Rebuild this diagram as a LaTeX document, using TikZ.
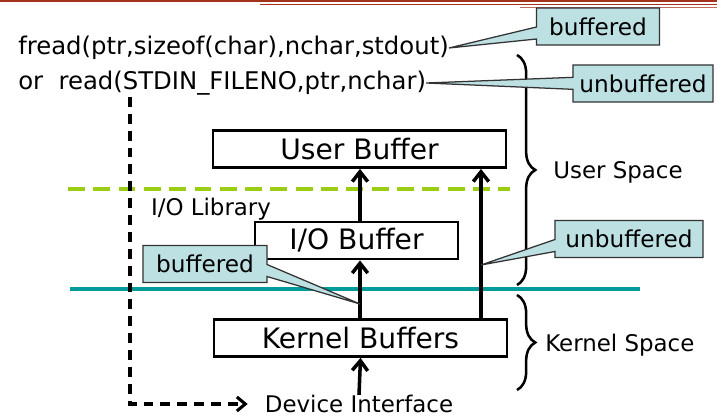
\documentclass[tikz,border=0pt]{standalone}
\usepackage{fontspec}
\setmainfont{DejaVu Sans}
\usetikzlibrary{arrows.meta,shapes.callouts,decorations.pathreplacing}
\definecolor{notefill}{HTML}{BDE0E3}
\definecolor{kernline}{HTML}{009C9C}
\definecolor{libline}{HTML}{9ACD14}
\definecolor{slidered}{HTML}{A3321C}

\begin{document}
\begin{tikzpicture}[x=0.025cm, y=-0.025cm,
  buf/.style={draw, line width=2pt, minimum height=0.925cm, inner sep=0pt,
    font=\fontsize{20}{23}\selectfont},
  code/.style={inner sep=0pt, anchor=west, font=\fontsize{17.3}{20}\selectfont},
  lbl/.style={inner sep=0pt, font=\fontsize{16.3}{19}\selectfont},
  note/.style={rectangle callout, draw=black!80, fill=notefill, line width=0.9pt,
    callout pointer width=0.3cm, minimum height=0.925cm, inner sep=0pt,
    font=\fontsize{16.5}{19}\selectfont},
  flow/.style={-{Straight Barb[length=7pt,width=11pt]}, line width=2.5pt},
  span/.style={decorate, decoration={brace, amplitude=13pt}, line width=1.8pt}]
  \path[use as bounding box] (0,0) rectangle (717,418);

  % Slide rules at the top
  \draw[slidered, line width=1.2pt] (0,1) -- (717,1);
  \draw[slidered, line width=0.9pt] (260,4.5) -- (717,4.5);
  \draw[slidered!70, line width=0.6pt] (520,7.5) -- (717,7.5);

  % Calls
  \node[code] (fread) at (18,48) {fread(ptr,sizeof(char),nchar,stdout)};
  \node[code] (rdcall) at (18,83) {or\ \ read(STDIN\_FILENO,ptr,nchar)};

  % Layer lines
  \draw[libline, line width=2.8pt, dash pattern=on 12pt off 6pt] (68,189) -- (510,189);
  \draw[kernline, line width=3.4pt] (70,289) -- (640,289);

  % Buffers
  \node[buf, minimum width=7.325cm] (userbuf) at (359.5,149) {User Buffer};
  \node[buf, minimum width=5.075cm] (iobuf) at (356.5,240.5) {I/O Buffer};
  \node[buf, minimum width=7.325cm] (kernbuf) at (360.5,338) {Kernel Buffers};
  \node[lbl] (iolib) at (211,209) {I/O Library};
  \node[lbl] (devif) at (359,404) {Device Interface};

  % Data paths
  \coordinate (kbtap) at (360,304);
  \coordinate (rtap) at (481,265);
  \coordinate (dstart) at (130,97);
  \draw[flow] (devif.north) -- (kernbuf.south);
  \draw[flow] (kernbuf.north -| kbtap) -- (iobuf.south -| kbtap);
  \draw[flow] (iobuf.north -| kbtap) -- (userbuf.south -| kbtap);
  \draw[flow] (kernbuf.north -| rtap) -- (userbuf.south -| rtap);
  \draw[-{Straight Barb[length=6pt,width=10pt]}, line width=2.2pt, dash pattern=on 7pt off 5pt,
    shorten >=12pt] (dstart) |- (devif.west);

  % Spaces
  \draw[span] (517,55) -- (517,285);
  \draw[span] (517,295) -- (517,390);
  \node[lbl, anchor=west] (userspace) at (553,172) {User Space};
  \node[lbl, anchor=west] (kernspace) at (545,345) {Kernel Space};

  % Notes
  \node[note, minimum width=3.075cm, callout absolute pointer={(fread.east)}]
    (bufnote) at (598,26.5) {buffered};
  \node[note, minimum width=3.5cm, callout absolute pointer={(rdcall.east)}]
    (rawnote) at (643,83.5) {unbuffered};
  \node[note, minimum width=3.1cm, callout absolute pointer={(kbtap)}]
    (libnote) at (205,264) {buffered};
  \node[note, minimum width=3.7cm, callout absolute pointer={(rtap)}]
    (kernnote) at (629,239) {unbuffered};
\end{tikzpicture}
\end{document}
